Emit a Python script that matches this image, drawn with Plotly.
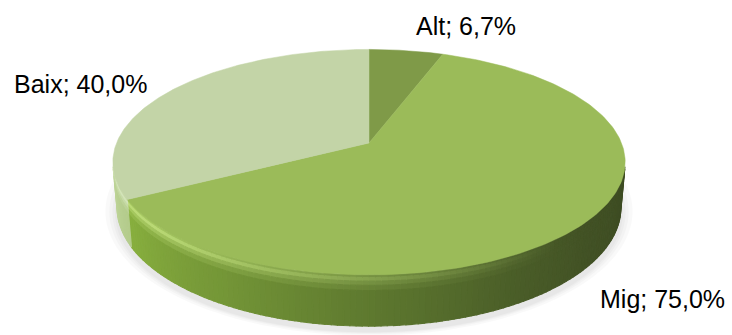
import numpy as np
import plotly.graph_objects as go

# Chart data
labels = ["Alt", "Mig", "Baix"]
values = [6.7, 75.0, 40.0]
top_colors = ["#7f9a48", "#9bbb59", "#c3d4a7"]
# side colour stops per slice: (angle in degrees, rgb)
side_stops = {
    "Alt": [(0, (100, 122, 56)), (360, (100, 122, 56))],
    "Mig": [(100, (60, 74, 34)), (130, (66, 82, 37)), (150, (74, 93, 40)),
            (180, (94, 121, 47)), (210, (116, 150, 55)), (240, (135, 174, 62)),
            (260, (140, 180, 64))],
    "Baix": [(240, (178, 202, 138)), (260, (190, 212, 152))],
}
highlight = (196, 226, 128)

# Perspective view of a flat cylinder
W, H = 732, 335
CX, CY = 369, 143
F, DIST = 1338.0, 5.30
ELEV = np.radians(25.7)
DEPTH = 0.2
COS_E, SIN_E = np.cos(ELEV), np.sin(ELEV)


def project(t_deg, z, scale=1.0):
    t = np.radians(np.asarray(t_deg, dtype=float))
    X = scale * np.sin(t)
    Y = scale * np.cos(t)
    d = DIST + Y * COS_E - z * SIN_E
    up = Y * SIN_E + z * COS_E
    return CX + F * X / d, CY - F * up / d


def interp_color(stops, t):
    ts = [s[0] for s in stops]
    rgb = np.array([s[1] for s in stops], dtype=float)
    return tuple(np.interp(t, ts, rgb[:, k]) for k in range(3))


def mix(a, b, k):
    return tuple(a[i] * (1 - k) + b[i] * k for i in range(3))


def rgb_str(c):
    return "rgb({:.0f},{:.0f},{:.0f})".format(*c)


total = sum(values)
bounds = np.concatenate([[0.0], np.cumsum(values) / total * 360.0])

fig = go.Figure()

# soft shadow under the base
tt = np.linspace(0, 360, 181)
for k, sc in enumerate([1.045, 1.03, 1.018, 1.008]):
    sx, sy = project(tt, -DEPTH, sc)
    fig.add_trace(go.Scatter(x=sx, y=sy + 2 + k, fill="toself", mode="none",
                             fillcolor="rgba(0,0,0,0.022)", hoverinfo="skip",
                             showlegend=False))

# visible part of the rim
t_edge = np.degrees(np.arccos(-1.0 / (DIST * COS_E)))
t_lo, t_hi = t_edge, 360.0 - t_edge
edges = np.arange(t_lo, t_hi, 1.2).tolist() + [t_hi]
edges = sorted(set(edges + [b for b in bounds if t_lo < b < t_hi]))
# vertical bands of the rim: (top, bottom, highlight strength)
bands = [(0.0, 0.05, 0.55), (0.05, 0.12, 0.85), (0.12, 0.2, 0.5),
         (0.2, 0.3, 0.2), (0.3, 1.0, 0.0)]

for a, b in zip(edges[:-1], edges[1:]):
    mid = 0.5 * (a + b)
    idx = int(np.searchsorted(bounds, mid) - 1)
    name = labels[idx]
    base = interp_color(side_stops[name], mid)
    k_hi = float(np.clip((mid - 140) / 90.0, 0, 1))
    light = highlight
    if name == "Baix":
        k_hi, light = 0.8, (225, 238, 205)
    ts = np.linspace(a, b, 3)
    for z0, z1, strength in bands:
        col = mix(base, light, strength * k_hi)
        x0, y0 = project(ts, -DEPTH * z0)
        x1, y1 = project(ts[::-1], -DEPTH * z1)
        fig.add_trace(go.Scatter(
            x=np.concatenate([x0, x1, x0[:1]]),
            y=np.concatenate([y0, y1, y0[:1]]),
            fill="toself", mode="lines", line=dict(width=1.1, color=rgb_str(col)),
            fillcolor=rgb_str(col), hoverinfo="skip", showlegend=False))

# top faces of the slices
cx0, cy0 = project(0.0, 0.0, 0.0)
for i, name in enumerate(labels):
    ts = np.linspace(bounds[i], bounds[i + 1], 200)
    ax, ay = project(ts, 0.0)
    fig.add_trace(go.Scatter(
        x=np.concatenate([[cx0], ax, [cx0]]),
        y=np.concatenate([[cy0], ay, [cy0]]),
        fill="toself", mode="lines", line=dict(width=0.5, color=top_colors[i]),
        fillcolor=top_colors[i], name=name,
        hovertemplate=f"{name}: {values[i]:.1f}%<extra></extra>",
        showlegend=False))

# data labels
label_pos = {"Alt": (466, 26), "Mig": (662, 299), "Baix": (80, 84)}
for name, v in zip(labels, values):
    px, py = label_pos[name]
    fig.add_annotation(x=px, y=py, xref="x", yref="y",
                       text=f"{name}; {v:.1f}%".replace(".", ","),
                       showarrow=False, xanchor="center", yanchor="middle",
                       font=dict(family="Liberation Sans, Arial, sans-serif",
                                 size=25, color="#000000"))

fig.update_layout(
    width=W, height=H, margin=dict(l=0, r=0, t=0, b=0),
    paper_bgcolor="white", plot_bgcolor="white",
    xaxis=dict(range=[0, W], visible=False, fixedrange=True),
    yaxis=dict(range=[H, 0], visible=False, fixedrange=True),
)

fig.write_html("out.html")
